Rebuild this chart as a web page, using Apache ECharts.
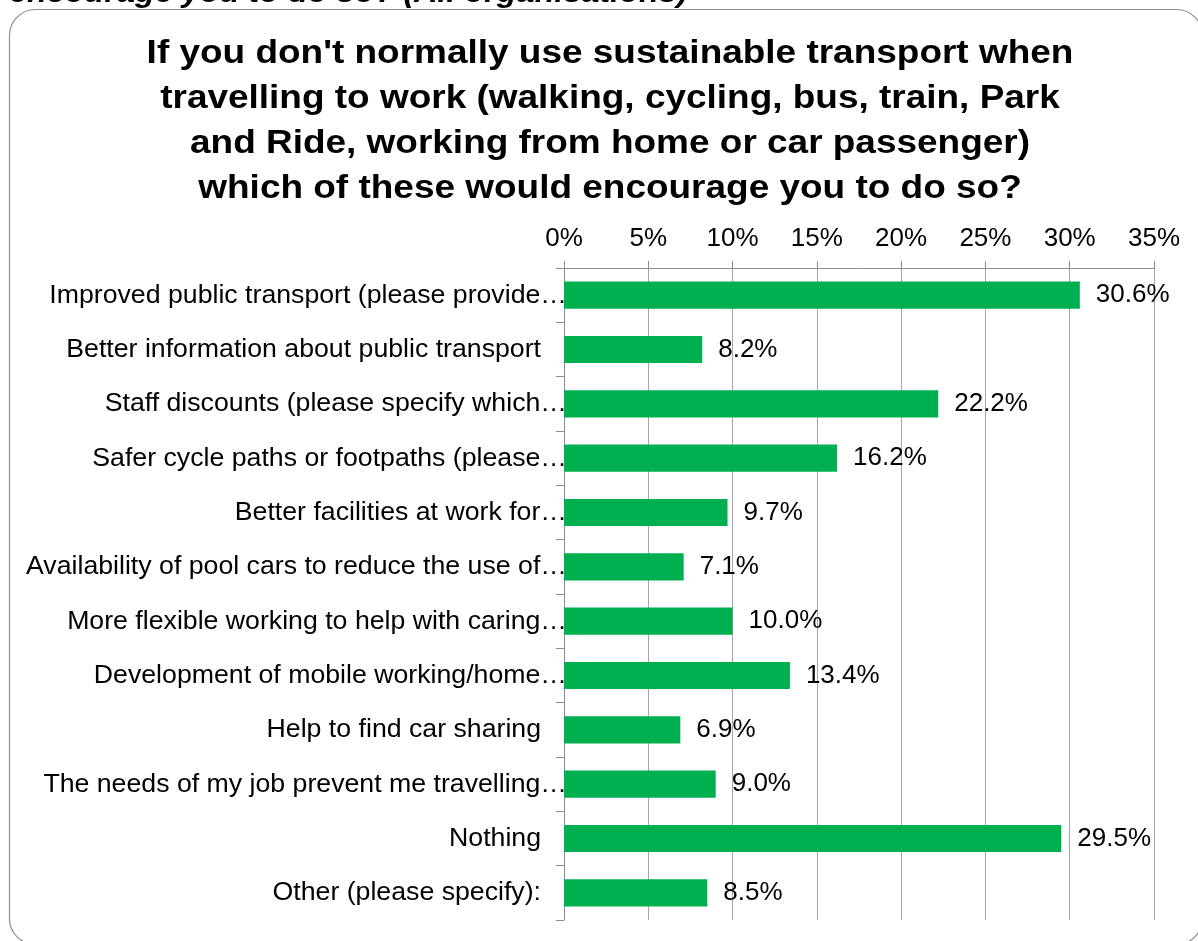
<!DOCTYPE html>
<html>
<head>
<meta charset="utf-8">
<script src="https://cdn.jsdelivr.net/npm/echarts@6/dist/echarts.min.js"></script>
<style>
  html, body { margin: 0; padding: 0; background: #ffffff; }
  #chart { width: 1198px; height: 941px; }
</style>
</head>
<body>
<div id="chart"></div>
<script>
// Survey answers, top to bottom
const categories = [
  'Improved public transport (please provide…',
  'Better information about public transport',
  'Staff discounts (please specify which…',
  'Safer cycle paths or footpaths (please…',
  'Better facilities at work for…',
  'Availability of pool cars to reduce the use of…',
  'More flexible working to help with caring…',
  'Development of mobile working/home…',
  'Help to find car sharing',
  'The needs of my job prevent me travelling…',
  'Nothing',
  'Other (please specify):'
];
// Share of respondents, percent
const values = [30.6, 8.2, 22.2, 16.2, 9.7, 7.1, 10.0, 13.4, 6.9, 9.0, 29.5, 8.5];
// Percentage axis ticks
const xTicks = [0, 5, 10, 15, 20, 25, 30, 35];

const titleLines = [
  "If you don't normally use sustainable transport when",
  'travelling to work (walking, cycling, bus, train, Park',
  'and Ride, working from home or car passenger)',
  'which of these would encourage you to do so?'
];
const headerText = 'encourage you to do so? (All organisations)';

const FONT = '"Liberation Sans", Arial, sans-serif';
const chart = echarts.init(document.getElementById('chart'), null, { renderer: 'canvas' });

chart.setOption({
  backgroundColor: '#ffffff',
  animation: false,
  textStyle: { fontFamily: FONT },
  graphic: [
    {
      type: 'rect',
      shape: { x: 9.5, y: 9.5, width: 1193, height: 935, r: 26 },
      style: { fill: 'none', stroke: '#8c8c8c', lineWidth: 1.2 },
      silent: true
    },
    {
      type: 'text',
      x: 9,
      y: -21,
      scaleX: 1.08,
      style: {
        text: headerText,
        font: 'italic bold 30px ' + FONT,
        fill: '#000000'
      },
      silent: true
    },
    {
      type: 'text',
      x: 610,
      y: 31,
      scaleX: 1.12,
      style: {
        text: titleLines.join('\n'),
        font: 'bold 33px ' + FONT,
        fill: '#000000',
        align: 'center',
        lineHeight: 45
      },
      silent: true
    }
  ],
  grid: { left: 564, right: 44, top: 268, bottom: 21, containLabel: false },
  xAxis: {
    type: 'value',
    position: 'top',
    min: xTicks[0],
    max: xTicks[xTicks.length - 1],
    interval: 5,
    axisLine: { show: true, lineStyle: { color: '#8c8c8c', width: 1 } },
    axisTick: { show: true, inside: false, length: 7, lineStyle: { color: '#8c8c8c' } },
    axisLabel: {
      formatter: '{value}%',
      fontSize: 26,
      color: '#000000',
      margin: 16,
      fontFamily: FONT
    },
    splitLine: { show: true, lineStyle: { color: '#a6a6a6', width: 1 } }
  },
  yAxis: {
    type: 'category',
    data: categories,
    inverse: true,
    axisLine: { show: true, lineStyle: { color: '#8c8c8c', width: 1 } },
    axisTick: { show: true, length: 8, lineStyle: { color: '#8c8c8c' } },
    axisLabel: {
      fontSize: 26.7,
      color: '#000000',
      margin: -3,
      fontFamily: FONT,
      formatter: function (v) {
        return v.endsWith('…') ? v : '{p|' + v + '}';
      },
      rich: {
        p: { fontSize: 26.7, color: '#000000', fontFamily: FONT, padding: [0, 26, 0, 0] }
      }
    },
    splitLine: { show: false }
  },
  series: [
    {
      type: 'bar',
      data: values,
      barWidth: '50%',
      itemStyle: { color: '#00b050' },
      label: {
        show: true,
        position: 'right',
        distance: 16,
        fontSize: 26,
        color: '#000000',
        fontFamily: FONT,
        formatter: function (p) { return p.value.toFixed(1) + '%'; }
      }
    }
  ]
});
</script>
</body>
</html>
